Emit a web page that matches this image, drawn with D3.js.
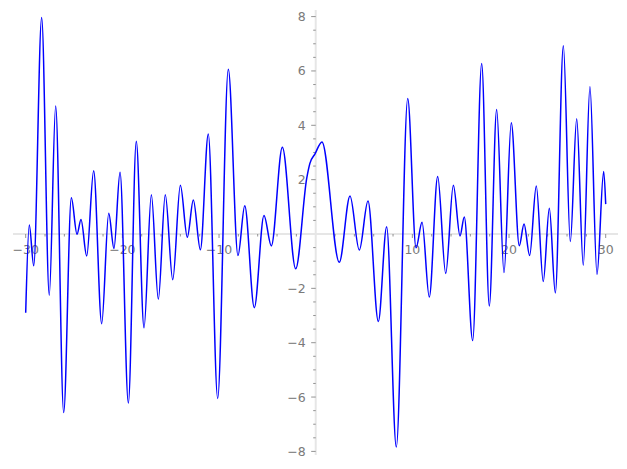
<!DOCTYPE html>
<html><head><meta charset="utf-8">
<script src="https://cdn.jsdelivr.net/npm/d3@7"></script>
<style>body{margin:0;background:#fff}svg{display:block}</style>
</head><body>
<svg id="c" width="627" height="469"></svg>
<script>
const xs = [-30,-29.63,-29.17,-28.35,-27.56,-26.9,-26.07,-25.28,-24.69,-24.28,-23.69,-22.97,-22.14,-21.41,-20.87,-20.24,-19.38,-18.56,-17.76,-17.0,-16.28,-15.56,-14.79,-14.0,-13.28,-12.66,-11.93,-11.11,-10.14,-9.04,-8.04,-7.34,-6.35,-5.35,-4.59,-3.45,-2.07,-0.93,-0.6,-0.07,0.65,2.44,3.55,4.51,5.41,6.48,7.34,8.34,9.52,10.38,11.0,11.75,12.62,13.45,14.24,14.93,15.37,16.24,17.17,17.96,18.72,19.48,20.23,21.06,21.55,22.13,22.82,23.54,24.17,24.79,25.62,26.34,27.0,27.68,28.37,29.1,29.79,30];
const ys = [-2.9,0.33,-1.17,7.97,-2.25,4.71,-6.57,1.33,-0.01,0.53,-0.81,2.33,-3.30,0.76,-0.53,2.27,-6.22,3.41,-3.45,1.44,-2.40,1.44,-1.68,1.79,-0.12,1.25,-0.58,3.68,-6.05,6.06,-0.79,1.04,-2.71,0.68,-0.44,3.19,-1.28,2.05,2.6,2.95,3.39,-1.04,1.40,-0.59,1.21,-3.22,0.27,-7.84,4.99,-0.51,0.43,-2.32,2.12,-1.45,1.79,-0.07,0.63,-3.92,6.27,-2.65,4.58,-1.42,4.09,-0.43,0.37,-0.79,1.77,-1.75,0.95,-2.17,6.93,-0.28,4.24,-1.15,5.42,-1.48,2.30,1.10];
const xMajor = [-30,-20,-10,10,20,30];
const yMajor = [-8,-6,-4,-2,2,4,6,8];

const svg = d3.select("#c");
const x = d3.scaleLinear().domain([-30,30]).range([25.7,605.7]);
const y = d3.scaleLinear().domain([-8,8]).range([451.4,16.6]);
const axisCol = "#e6e6e6", tickCol = "#777", labCol = "#7a7a7a";

// axis lines
svg.append("line").attr("x1",13).attr("x2",618).attr("y1",y(0)).attr("y2",y(0))
  .attr("stroke",axisCol).attr("stroke-width",2);
svg.append("line").attr("x1",x(0)).attr("x2",x(0)).attr("y1",10).attr("y2",455)
  .attr("stroke",axisCol).attr("stroke-width",2);

// x ticks
const xMinor = d3.range(-30,31,2).filter(v=>v!==0);
svg.append("g").selectAll("line").data(xMinor).join("line")
  .attr("x1",d=>x(d)).attr("x2",d=>x(d)).attr("y1",y(0)).attr("y2",d=>y(0)+(d%10===0?4:2.5))
  .attr("stroke",tickCol).attr("stroke-width",0.8);
svg.append("g").selectAll("text").data(xMajor).join("text")
  .attr("x",d=>x(d)).attr("y",y(0)+20).attr("text-anchor","middle")
  .attr("font-family","DejaVu Sans").attr("font-size",12.5).attr("fill",labCol)
  .text(d=>d3.format("")(d).replace("-","\u2212"));

// y ticks
const yMinor = d3.range(-8,8.01,0.5).filter(v=>v!==0);
svg.append("g").selectAll("line").data(yMinor).join("line")
  .attr("x1",d=>x(0)-(d%2===0?4.5:2.5)).attr("x2",x(0)).attr("y1",d=>y(d)).attr("y2",d=>y(d))
  .attr("stroke",tickCol).attr("stroke-width",0.8);
svg.append("g").selectAll("text").data(yMajor).join("text")
  .attr("x",x(0)-10).attr("y",d=>y(d)+4.5).attr("text-anchor","end")
  .attr("font-family","DejaVu Sans").attr("font-size",12.5).attr("fill",labCol)
  .text(d=>d3.format("")(d).replace("-","\u2212"));

// curve
const pts = xs.map((v,i)=>[v,ys[i]]);
const line = d3.line().x(d=>x(d[0])).y(d=>y(d[1])).curve(d3.curveMonotoneX);
svg.append("path").datum(pts).attr("d",line).attr("fill","none")
  .attr("stroke","#0000ff").attr("stroke-width",1.5);
</script>
</body></html>
